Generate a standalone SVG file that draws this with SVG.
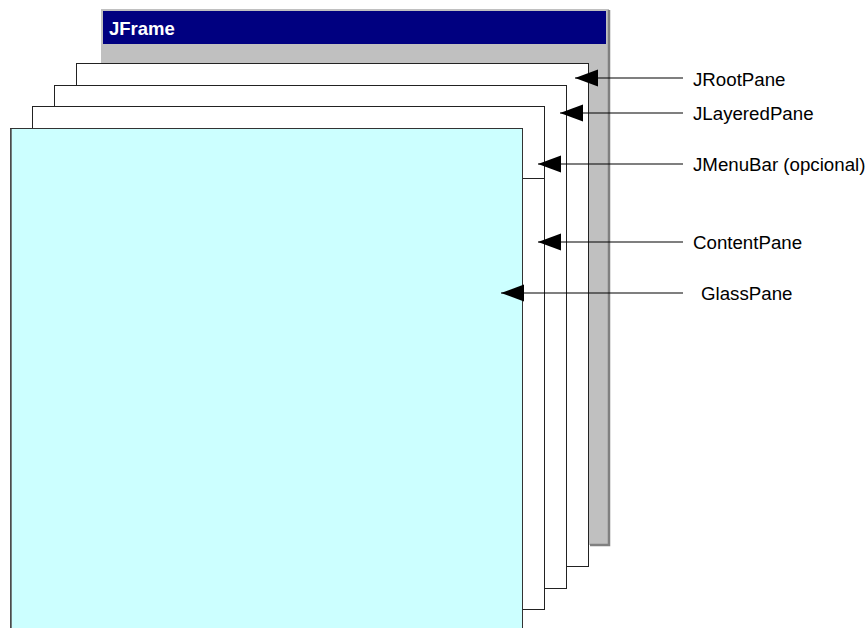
<svg xmlns="http://www.w3.org/2000/svg" width="868" height="628" viewBox="0 0 868 628">
<style>
.pane{fill:#ffffff;stroke:#222222;stroke-width:1}
.lbl{font-family:"Liberation Sans",Arial,sans-serif;font-size:18.7px;fill:#000000}
.conn{stroke:#000000;stroke-width:1.2;fill:none;marker-end:url(#ah)}
</style>
<defs>
<marker id="ah" markerUnits="userSpaceOnUse" markerWidth="24" markerHeight="18" refX="23" refY="8.5" orient="auto">
<path d="M0,0 L23,8.5 L0,17 Z" fill="#000000"/>
</marker>
</defs>
<rect width="868" height="628" fill="#ffffff"/>
<g id="jframe">
<rect x="101" y="9" width="508" height="536" fill="#c0c0c0"/>
<path d="M609,10 V545 H590" fill="none" stroke="#808080" stroke-width="2.5"/>
<rect x="103" y="11" width="503" height="33" fill="#000080"/>
<text x="109" y="34.5" font-family="Liberation Sans,Arial,sans-serif" font-size="18.5" font-weight="bold" fill="#ffffff">JFrame</text>
</g>
<g id="jrootpane">
<rect class="pane" x="76.5" y="63.5" width="512" height="503"/>
</g>
<g id="jlayeredpane">
<rect class="pane" x="54.5" y="85.5" width="512" height="503"/>
</g>
<g id="contentpane">
<rect class="pane" x="32.5" y="106.5" width="512" height="503"/>
</g>
<g id="jmenubar">
<rect class="pane" x="32.5" y="106.5" width="512" height="72"/>
</g>
<g id="glasspane">
<rect x="10.5" y="128.5" width="512" height="520" fill="#ccffff" stroke="#333333" stroke-width="1"/>
<line x1="11" y1="129" x2="11" y2="628" stroke="#555555" stroke-width="1.5"/>
</g>
<g id="connectors">
<line class="conn" x1="683" y1="78" x2="575" y2="78"/>
<line class="conn" x1="683" y1="113" x2="560" y2="113"/>
<line class="conn" x1="683" y1="164" x2="538" y2="164"/>
<line class="conn" x1="683" y1="242" x2="538" y2="242"/>
<line class="conn" x1="683" y1="293" x2="501" y2="293"/>
</g>
<g id="labels">
<text class="lbl" x="693" y="85.5">JRootPane</text>
<text class="lbl" x="693" y="119.5">JLayeredPane</text>
<text class="lbl" x="693" y="171">JMenuBar (opcional)</text>
<text class="lbl" x="693" y="248.5">ContentPane</text>
<text class="lbl" x="701" y="299.5">GlassPane</text>
</g>
</svg>
